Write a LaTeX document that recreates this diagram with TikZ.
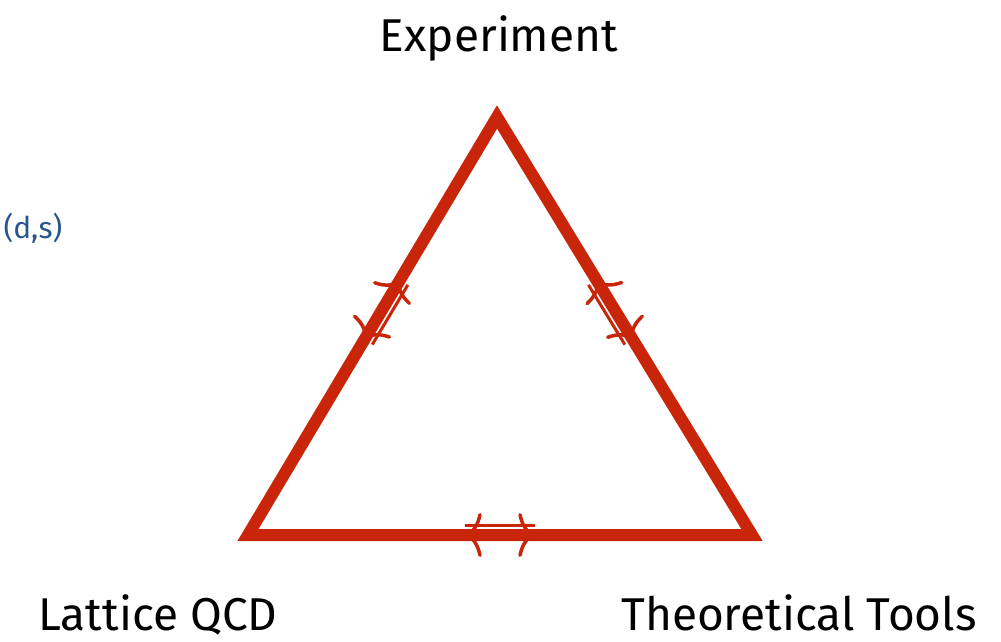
\documentclass[tikz,border=0pt]{standalone}
\usepackage{fontspec}
\setmainfont{Fira Sans}
\usetikzlibrary{arrows.meta,calc}
\definecolor{edgered}{RGB}{200,37,10}
\definecolor{noteblue}{RGB}{40,85,140}
\begin{document}
\begin{tikzpicture}[x=1pt,y=-1pt,line join=miter,
    edge/.style={draw=edgered,line width=12pt},
    rail/.style={draw=edgered,line width=3pt},
    barbs/.style={draw=edgered,line width=3.5pt,
      {Computer Modern Rightarrow[length=17pt,width=44pt]}-{Computer Modern Rightarrow[length=17pt,width=44pt]}},
    corner/.style={font=\fontsize{46}{48}\selectfont,anchor=base}]
\useasboundingbox (0,0) rectangle (1001,642);
% corners of the triangle
\coordinate (T) at (497,117);
\coordinate (L) at (248,535);
\coordinate (R) at (752,535);
% places of the small double arrows
\path (L) -- (T) coordinate[pos=0.467] (la) coordinate[pos=0.61] (lb);
\path (T) -- (R) coordinate[pos=0.39] (ra) coordinate[pos=0.533] (rb);
\path (L) -- (R) coordinate[pos=0.43] (ba) coordinate[pos=0.57] (bb);
\draw[barbs] (la) -- (lb);
\draw[barbs] (ra) -- (rb);
\draw[barbs] (ba) -- (bb);
\draw[rail] ($(la)+(8,4.8)$) -- ($(lb)+(8,4.8)$);
\draw[rail] ($(ra)+(-8,4.9)$) -- ($(rb)+(-8,4.9)$);
\draw[rail] ($(ba)+(0,-9.3)$) -- ($(bb)+(0,-9.3)$);
\draw[edge] (T) -- (R) -- (L) -- cycle;
% labels
\node[corner] (exp) at (499,52) {Experiment};
\node[corner] (lat) at (158,630) {Lattice QCD};
\node[corner] (the) at (799,630) {Theoretical Tools};
\node[text=noteblue,font=\fontsize{30}{32}\selectfont,anchor=west] (note) at (0,228) {(d,s)};
\end{tikzpicture}
\end{document}
